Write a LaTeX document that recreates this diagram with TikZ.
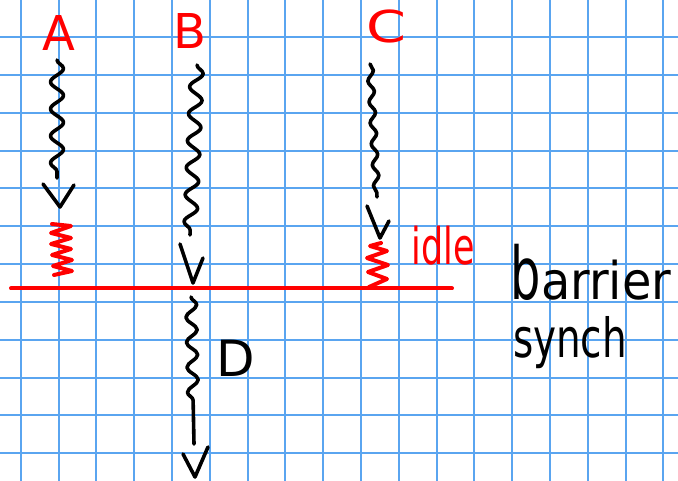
\documentclass[tikz,border=0pt]{standalone}
\usepackage{fontspec}
\setmainfont{DejaVu Sans}
\usetikzlibrary{decorations.pathmorphing}
\definecolor{gridblue}{RGB}{90,165,240}
\definecolor{inkred}{RGB}{255,0,0}
\begin{document}
\begin{tikzpicture}[x=1pt,y=-1pt,
  gridline/.style={gridblue,line width=2pt},
  ink/.style={black,line width=3.6pt,line cap=round,line join=round},
  redink/.style={inkred,line width=4pt,line cap=round,line join=round},
  wavyA/.style={ink,decorate,decoration={snake,segment length=27pt,amplitude=6.5pt}},
  wavyB/.style={ink,decorate,decoration={snake,segment length=27pt,amplitude=6.5pt}},
  wavyC/.style={ink,decorate,decoration={snake,segment length=21pt,amplitude=3pt}},
  wavyD/.style={ink,decorate,decoration={snake,segment length=25pt,amplitude=5.5pt,post length=40pt}},
  lab/.style={inner sep=0pt,outer sep=0pt,anchor=base}]
\useasboundingbox (0,0) rectangle (678,481);
\fill[white] (0,0) rectangle (678,481);
% grid
\foreach \k in {0,...,17} \draw[gridline] ({20.7+37.8*\k},0) -- ({20.7+37.8*\k},481);
\foreach \k in {0,...,11} \draw[gridline] (0,{37.3+37.8*\k}) -- (678,{37.3+37.8*\k});

% labels
\node[lab,text=inkred,font=\fontsize{48}{48}\selectfont] (labA) at (59,51) {A};
\node[lab,text=inkred,font=\fontsize{48}{48}\selectfont] (labB) at (190,49) {B};
\node[lab,text=inkred,font=\fontsize{44}{44}\selectfont] (labC) at (386,43) {\scalebox{1.3}[1]{C}};
\node[lab,text=black,font=\fontsize{50}{50}\selectfont] (labD) at (236,377) {D};
\node[lab,text=inkred,font=\fontsize{46}{46}\selectfont] (idle) at (443,265) {\scalebox{0.76}[1.1]{idle}};
\node[lab,text=black,font=\fontsize{52}{52}\selectfont] (barrier) at (591,300) {\scalebox{0.92}[1]{\scalebox{1}[1.4]{b}arrier}};
\node[lab,text=black,font=\fontsize{54}{54}\selectfont] (synch) at (570,358) {\scalebox{0.72}[1]{synch}};

% process coordinates
\coordinate (a1) at (57,60);  \coordinate (a2) at (57,178);
\coordinate (b1) at (197,65); \coordinate (b2) at (190,235);
\coordinate (c1) at (370,64); \coordinate (c2) at (377,197);
\coordinate (d1) at (191,297); \coordinate (d2) at (194,444);

% wavy lines
\draw[wavyA] (a1) -- (a2);
\draw[wavyB] (b1) -- (b2);
\draw[wavyC] (c1) -- (c2);
\draw[wavyD] (d1) -- (d2);

% open V arrowheads
\draw[ink] (43,184) -- (60,207) -- (74,185);
\draw[ink] (180,244) -- (193,283) -- (203,258);
\draw[ink] (367,206) -- (380,238) -- (389,221);
\draw[ink] (183,454) -- (195,477) -- (208,447);

% barrier
\coordinate (barL) at (11,288.5); \coordinate (barR) at (452,288.5);
\draw[redink] (barL) -- (barR);

% springs (idle waiting)
\draw[redink] (52,224) -- (71,226) -- (51,233) -- (71,238) -- (51,244) -- (71,249)
  -- (52,255) -- (72,260) -- (53,266) -- (72,271) -- (54,275);
\draw[redink] (381,243) -- (370,246) -- (387,251) -- (367,258) -- (388,265)
  -- (368,272) -- (387,279) -- (369,287);
\end{tikzpicture}
\end{document}
